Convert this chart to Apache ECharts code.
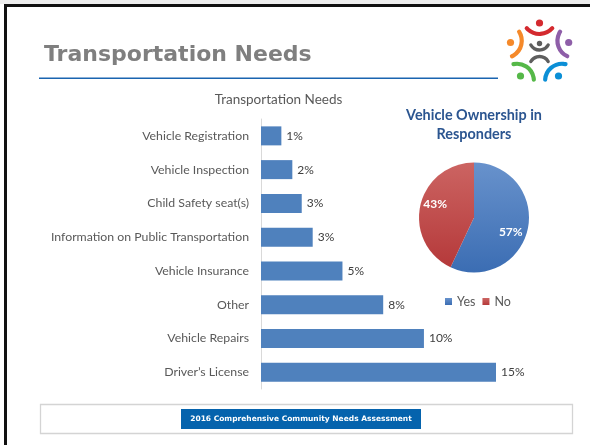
<!DOCTYPE html>
<html>
<head>
<meta charset="utf-8">
<script src="https://cdn.jsdelivr.net/npm/echarts@6/dist/echarts.min.js"></script>
<style>
  html, body { margin: 0; padding: 0; background: #ffffff; }
  #main { width: 590px; height: 445px; }
</style>
</head>
<body>
<div id="main"></div>
<script>
// Needs reported by respondents (percent of respondents)
const needCategories = [
  'Vehicle Registration',
  'Vehicle Inspection',
  'Child Safety seat(s)',
  'Information on Public Transportation',
  'Vehicle Insurance',
  'Other',
  'Vehicle Repairs',
  'Driver\u2019s License'
];
const needShares = [1.3, 2.0, 2.6, 3.3, 5.2, 7.8, 10.4, 15.0];

// Vehicle ownership split
const ownershipLabels = ['Yes', 'No'];
const ownershipShares = [57, 43];

const slideTitle = 'Transportation Needs';
const barTitle = 'Transportation Needs';
const pieTitle = 'Vehicle Ownership in\nResponders';
const footerText = '2016 Comprehensive Community Needs Assessment';

const chartFont = 'Lato';
const BLUE = '#4f81bd';

// Inside-label nudges for the two pie slices
const pieLabelShift = [[7, 7.5], [-9, -6.5]];

// Logo: five coloured figures around a grey one
const logoCenter = [539.5, 51];
const logoPeople = [
  { color: '#d42a2f', head: [539.5, 23] },
  { color: '#8e5ea8', head: [568.7, 42.5] },
  { color: '#0b8fd6', head: [558.5, 76] },
  { color: '#55b848', head: [520.5, 76] },
  { color: '#f5892a', head: [510.5, 42.5] }
];

function logoGraphics() {
  const out = [];
  logoPeople.forEach(function (p) {
    const ux = logoCenter[0] - p.head[0];
    const uy = logoCenter[1] - p.head[1];
    const len = Math.sqrt(ux * ux + uy * uy);
    const nx = ux / len, ny = uy / len;
    const phi = Math.atan2(ny, nx);
    const r = 17;
    out.push({
      type: 'arc',
      shape: {
        cx: p.head[0] - nx * 6, cy: p.head[1] - ny * 6, r: r,
        startAngle: phi - 0.85, endAngle: phi + 0.85, clockwise: true
      },
      style: { stroke: p.color, lineWidth: 4.2, lineCap: 'round', fill: null }
    });
    out.push({
      type: 'circle',
      shape: { cx: p.head[0], cy: p.head[1], r: 3.6 },
      style: { fill: p.color }
    });
  });
  // grey centre figure: head, raised arms, legs
  out.push({
    type: 'circle', shape: { cx: 539.5, cy: 43.5, r: 2.7 }, style: { fill: '#5e5e5e' }
  });
  out.push({
    type: 'arc',
    shape: { cx: 539.5, cy: 40, r: 10, startAngle: Math.PI / 6, endAngle: Math.PI * 5 / 6, clockwise: true },
    style: { stroke: '#5e5e5e', lineWidth: 3.4, lineCap: 'round', fill: null }
  });
  out.push({
    type: 'arc',
    shape: { cx: 539.5, cy: 66.5, r: 10, startAngle: -Math.PI * 5 / 6, endAngle: -Math.PI / 6, clockwise: true },
    style: { stroke: '#5e5e5e', lineWidth: 3.4, lineCap: 'round', fill: null }
  });
  return out;
}

const chart = echarts.init(document.getElementById('main'), null, { renderer: 'canvas' });

const option = {
  backgroundColor: '#ffffff',
  animation: false,
  title: [
    {
      text: barTitle,
      left: 278.5, top: 93, textAlign: 'center', padding: 0,
      textStyle: { fontFamily: chartFont, fontSize: 13.5, fontWeight: 'normal', color: '#595959' }
    },
    {
      text: pieTitle,
      left: 474, top: 105.5, textAlign: 'center', padding: 0,
      textStyle: { fontFamily: chartFont, fontSize: 14.4, fontWeight: 'bold', color: '#2b5590', lineHeight: 19 }
    }
  ],
  grid: { left: 261, top: 119, width: 235, height: 270, containLabel: false },
  xAxis: {
    type: 'value', min: 0, max: 15,
    show: false
  },
  yAxis: {
    type: 'category',
    data: needCategories,
    inverse: true,
    axisLine: { show: true, lineStyle: { color: '#d9d9d9', width: 1 } },
    axisTick: { show: false },
    splitLine: { show: false },
    axisLabel: { fontFamily: chartFont, fontSize: 12.3, color: '#595959', margin: 12 }
  },
  legend: {
    data: ownershipLabels,
    left: 445, top: 295, padding: 0,
    icon: 'rect', itemWidth: 7, itemHeight: 7, itemGap: 7,
    textStyle: { fontFamily: chartFont, fontSize: 12.5, color: '#595959' }
  },
  series: [
    {
      type: 'bar',
      data: needShares,
      barWidth: 19,
      itemStyle: { color: BLUE },
      label: {
        show: true, position: 'right', distance: 5,
        fontFamily: chartFont, fontSize: 12, color: '#404040',
        formatter: function (p) { return Math.round(p.value) + '%'; }
      }
    },
    {
      type: 'pie',
      center: [474, 217.5],
      radius: 55,
      startAngle: 90,
      clockwise: true,
      data: [
        {
          name: ownershipLabels[0], value: ownershipShares[0],
          itemStyle: { color: new echarts.graphic.LinearGradient(0, 0, 0, 1, [
            { offset: 0, color: '#6892cc' }, { offset: 1, color: '#3b6db3' }
          ]) }
        },
        {
          name: ownershipLabels[1], value: ownershipShares[1],
          itemStyle: { color: new echarts.graphic.LinearGradient(0, 0, 0, 1, [
            { offset: 0, color: '#cc6462' }, { offset: 1, color: '#b5393a' }
          ]) }
        }
      ],
      label: {
        show: true, position: 'inside',
        formatter: '{c}%',
        fontFamily: chartFont, fontSize: 12, fontWeight: 'bold', color: '#ffffff'
      },
      labelLayout: function (params) {
        const s = pieLabelShift[params.dataIndex];
        return { dx: s[0], dy: s[1] };
      },
      labelLine: { show: false },
      emphasis: { disabled: true }
    }
  ],
  graphic: [
    // slide frame
    { type: 'rect', shape: { x: 0, y: 0, width: 590, height: 4 }, style: { fill: '#ededed' } },
    { type: 'rect', shape: { x: 4, y: 4, width: 586, height: 3 }, style: { fill: '#111111' } },
    { type: 'rect', shape: { x: 4, y: 4, width: 3, height: 441 }, style: { fill: '#111111' } },
    // slide heading and rule
    {
      type: 'text',
      style: {
        text: slideTitle, x: 44, y: 55.5, textVerticalAlign: 'middle',
        font: 'bold 22px "DejaVu Sans"', fill: '#7f7f7f'
      }
    },
    { type: 'rect', shape: { x: 39, y: 77.6, width: 459, height: 1.3 }, style: { fill: '#1a64b0' } },
    // footer
    {
      type: 'rect', shape: { x: 40.5, y: 404.5, width: 532, height: 29 },
      style: { fill: 'none', stroke: '#d4d4d4', lineWidth: 1.3 }
    },
    { type: 'rect', shape: { x: 181, y: 409, width: 240, height: 20 }, style: { fill: '#0563ad' } },
    {
      type: 'text',
      style: {
        text: footerText, x: 301, y: 419.5, textAlign: 'center', textVerticalAlign: 'middle',
        font: 'bold 7.5px "DejaVu Sans"', fill: '#ffffff'
      }
    }
  ].concat(logoGraphics())
};

chart.setOption(option);
</script>
</body>
</html>
